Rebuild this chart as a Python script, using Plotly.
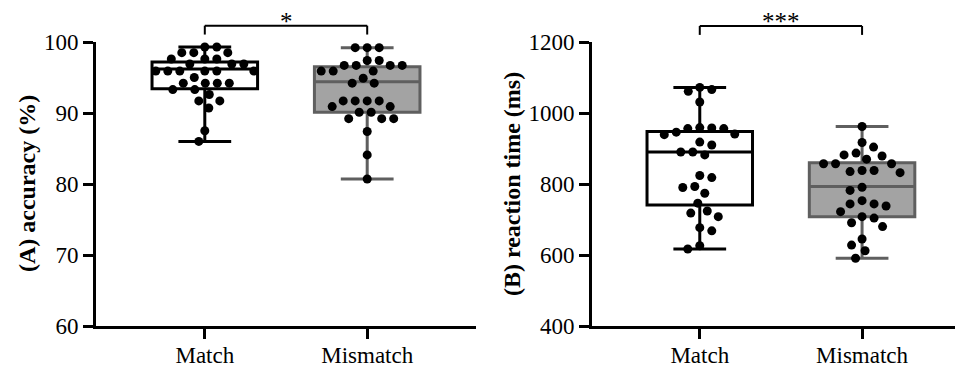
import numpy as np
import plotly.graph_objects as go

categories = ["Match", "Mismatch"]

# (A) accuracy (%) per participant
acc_match = [99.3, 99.3, 98.5, 98.5, 98.5, 97.6, 97.6, 97.6, 96.9, 96.9, 96.9,
             95.9, 95.9, 95.9, 95.9, 95.9, 95.9, 95.0, 94.2, 94.2, 94.2, 94.2,
             93.3, 93.3, 92.6, 91.7, 91.7, 90.7, 87.5, 86.0]
acc_mismatch = [99.2, 99.2, 99.2, 97.4, 97.4, 96.7, 96.7, 96.7, 96.7, 95.9, 95.9,
                95.9, 94.9, 94.2, 94.2, 91.7, 91.7, 91.7, 91.7, 90.9, 90.9, 90.1,
                90.1, 89.2, 89.2, 89.2, 87.4, 84.1, 80.7]

# (B) reaction time (ms) per participant
rt_match = [1072, 1066, 1061, 1031, 959, 958, 956, 956, 946, 941, 939, 918, 910,
            890, 890, 882, 824, 818, 793, 790, 774, 746, 724, 718, 708, 677, 668,
            626, 617]
rt_mismatch = [962, 917, 904, 887, 882, 879, 870, 857, 857, 857, 838, 838, 835,
               832, 791, 782, 753, 744, 744, 738, 722, 708, 704, 691, 680, 645,
               628, 612, 591]

# box statistics [Match, Mismatch]
acc_lower = [86.0, 80.7]
acc_q1 = [93.4, 90.1]
acc_median = [96.2, 94.4]
acc_q3 = [97.2, 96.5]
acc_upper = [99.3, 99.2]

rt_lower = [617, 591]
rt_q1 = [741, 708]
rt_median = [890, 793]
rt_q3 = [948, 860]
rt_upper = [1072, 962]

acc_ticks = [60, 70, 80, 90, 100]
rt_ticks = [400, 600, 800, 1000, 1200]
acc_sig = "*"
rt_sig = "***"

# ---------------- layout constants ----------------
# the page body has an 8 px margin: the figure starts 8 px in from the top-left
OFF = 8
W, H = 963 - OFF, 367 - OFF
ML, MR, MT = 96 - OFF, 0, 42 - OFF
MB = H - (326 - OFF)
PW, PH = W - ML - MR, H - MT - MB
dom1 = [0.0, 380 / PW]
dom2 = [(592 - 96) / PW, 1.0]
xr1 = [-0.67, 1.67]
xr2 = [-0.664, -0.664 + (PW * (1 - dom2[0])) / 162.3]
yr1 = [60, 100]
yr2 = [400, 1200]

FONT = "Liberation Serif, Times New Roman, serif"
BLACK = "#000000"
GREY_LINE = "#5f5f5f"
GREY_FILL = "#a3a3a3"


def swarm(values, px_per_val, px_per_x, d=12.0):
    vals = np.asarray(values, dtype=float)
    order = np.argsort(-vals, kind="stable")
    placed = []
    offs = np.zeros(len(vals))
    flip = False
    steps = np.arange(0, 200, 0.5)
    for i in order:
        y = vals[i] * px_per_val
        near = [(py, px) for (py, px) in placed if abs(py - y) < d]
        chosen = 0.0
        for s in steps:
            cands = [s] if s == 0 else ([-s, s] if flip else [s, -s])
            ok = None
            for c in cands:
                if all((c - px) ** 2 + (y - py) ** 2 >= d * d for (py, px) in near):
                    ok = c
                    break
            if ok is not None:
                chosen = ok
                break
        if chosen != 0:
            flip = not flip
        placed.append((y, chosen))
        offs[i] = chosen / px_per_x
    return offs


fig = go.Figure()

panels = [
    ("x", "y", dom1, xr1, yr1, [acc_match, acc_mismatch],
     [acc_lower, acc_q1, acc_median, acc_q3, acc_upper]),
    ("x2", "y2", dom2, xr2, yr2, [rt_match, rt_mismatch],
     [rt_lower, rt_q1, rt_median, rt_q3, rt_upper]),
]

for xa, ya, dom, xr, yr, series, stats in panels:
    px_per_x = PW * (dom[1] - dom[0]) / (xr[1] - xr[0])
    px_per_val = PH / (yr[1] - yr[0])
    lo, q1, med, q3, up = stats
    for k in range(2):
        line_c = BLACK if k == 0 else GREY_LINE
        fill_c = "#ffffff" if k == 0 else GREY_FILL
        fig.add_trace(go.Box(
            x=[k], lowerfence=[lo[k]], q1=[q1[k]], median=[med[k]],
            q3=[q3[k]], upperfence=[up[k]],
            width=0.65, whiskerwidth=0.5, boxpoints=False,
            line=dict(color=line_c, width=3), fillcolor=fill_c,
            xaxis=xa, yaxis=ya, showlegend=False, hoverinfo="skip"))
    for k in range(2):
        offs = swarm(series[k], px_per_val, px_per_x)
        fig.add_trace(go.Scatter(
            x=k + offs, y=series[k], mode="markers",
            marker=dict(color=BLACK, size=9, line=dict(width=0)),
            xaxis=xa, yaxis=ya, showlegend=False, hoverinfo="skip",
            cliponaxis=False))


def xpaper(k, dom, xr):
    return dom[0] + (k - xr[0]) / (xr[1] - xr[0]) * (dom[1] - dom[0])


def ypaper(v, yr):
    return (v - yr[0]) / (yr[1] - yr[0])


shapes = []
annotations = []
brackets = [
    (dom1, xr1, yr1, 102.3, 101.05, acc_sig),
    (dom2, xr2, yr2, 1245, 1220, rt_sig),
]
fig_top = 1 + MT / PH
for dom, xr, yr, ytop, ytip, sig in brackets:
    x0, x1 = xpaper(0, dom, xr), xpaper(1, dom, xr)
    yt, yb = ypaper(ytop, yr), ypaper(ytip, yr)
    for (a, b, c, d_) in [(x0, yt, x1, yt), (x0, yb, x0, yt), (x1, yb, x1, yt)]:
        shapes.append(dict(type="line", xref="paper", yref="paper",
                           x0=a, y0=b, x1=c, y1=d_,
                           line=dict(color=BLACK, width=2)))
    annotations.append(dict(text=sig, xref="paper", yref="paper",
                            x=(x0 + x1) / 2, y=fig_top, xanchor="center",
                            yanchor="top", showarrow=False, borderpad=0,
                            yshift=1,
                            font=dict(family=FONT, size=25, color=BLACK)))

titles = [("<b>(A) accuracy (%)</b>", 27), ("<b>(B) reaction time (ms)</b>", 512)]
for txt, cx in titles:
    annotations.append(dict(text=txt, xref="paper", yref="paper",
                            x=(cx - 96) / PW, y=0.5, xanchor="center",
                            yanchor="middle", textangle=-90, showarrow=False,
                            font=dict(family=FONT, size=24, color=BLACK)))

axis_common = dict(showline=True, linecolor=BLACK, linewidth=3, ticks="outside",
                   tickcolor=BLACK, tickwidth=3, showgrid=False, zeroline=False,
                   automargin=False,
                   tickfont=dict(family=FONT, size=23, color=BLACK))

fig.update_layout(
    template="none",
    width=W, height=H,
    margin=dict(l=ML, r=MR, t=MT, b=MB, autoexpand=False),
    paper_bgcolor="white", plot_bgcolor="white",
    font=dict(family=FONT, color=BLACK),
    xaxis=dict(domain=dom1, range=xr1, tickvals=[0, 1], ticktext=categories,
               ticklen=10, ticklabelstandoff=-4, anchor="y", **axis_common),
    yaxis=dict(domain=[0, 1], range=yr1, tickvals=acc_ticks, ticklen=10,
               anchor="x", **axis_common),
    xaxis2=dict(domain=dom2, range=xr2, tickvals=[0, 1], ticktext=categories,
                ticklen=10, ticklabelstandoff=-4, anchor="y2", **axis_common),
    yaxis2=dict(domain=[0, 1], range=yr2, tickvals=rt_ticks, ticklen=10,
                anchor="x2", **axis_common),
    shapes=shapes, annotations=annotations,
)

fig.write_html("out.html")
